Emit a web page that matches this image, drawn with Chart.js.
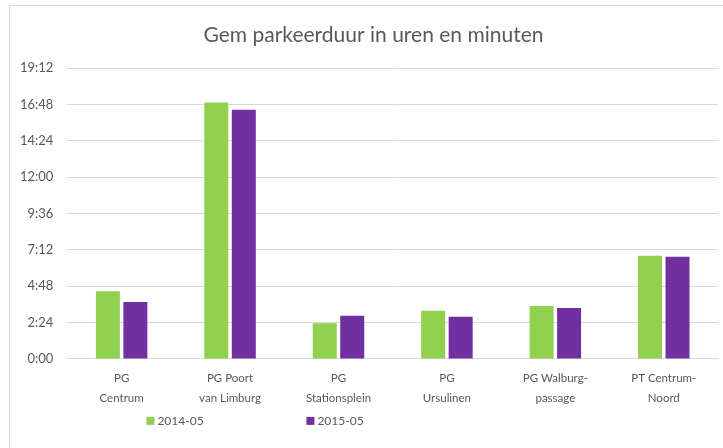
<!DOCTYPE html>
<html>
<head>
<meta charset="utf-8">
<script src="https://cdn.jsdelivr.net/npm/chart.js@4"></script>
<style>
  html, body { margin: 0; padding: 0; background: #fff; overflow: hidden; }
  #frame { position: absolute; left: 9px; top: 5px; width: 800px; height: 600px; border: 1px solid #d9d9d9; }
  #wrap { position: absolute; left: 0; top: 0; width: 723px; height: 448px; }
</style>
</head>
<body>
<div id="frame"></div>
<div id="wrap"><canvas id="Chart"></canvas></div>
<script>
// locations (two-line labels)
const categories = [
    ['PG', 'Centrum'],
    ['PG Poort', 'van Limburg'],
    ['PG', 'Stationsplein'],
    ['PG', 'Ursulinen'],
    ['PG Walburg-', 'passage'],
    ['PT Centrum-', 'Noord']
];

// average parking time in hours
const data2014 = [4.46, 16.92, 2.35, 3.18, 3.49, 6.81];
const data2015 = [3.76, 16.45, 2.85, 2.79, 3.36, 6.74];

const seriesNames = ['2014-05', '2015-05'];
const seriesColors = ['#92d050', '#7030a0'];
const chartTitle = 'Gem parkeerduur in uren en minuten';

const textColor = '#595959';
const fontFamily = 'Lato, "Open Sans", sans-serif';

// hours -> h:mm
function toClock(v) {
    let m = Math.round(v * 60);
    let h = Math.floor(m / 60);
    let mm = m % 60;
    return h + ':' + (mm < 10 ? '0' + mm : mm);
}

// title + legend drawn by hand, placed like the excel original
const excelDecor = {
    id: 'excelDecor',
    afterDraw(chart) {
        let ctx = chart.ctx;
        let area = chart.chartArea;
        ctx.save();
        // title, a bit right of centre
        ctx.font = '21px ' + fontFamily;
        ctx.fillStyle = textColor;
        ctx.textAlign = 'center';
        ctx.textBaseline = 'middle';
        ctx.fillText(chartTitle, chart.width / 2 + 12, area.top - 33);
        // legend under the axis labels
        let y = area.bottom + 62;
        let offsets = [79, 239];
        ctx.font = '12px ' + fontFamily;
        ctx.textAlign = 'left';
        chart.data.datasets.forEach((ds, i) => {
            let x = area.left + offsets[i];
            ctx.fillStyle = ds.backgroundColor;
            ctx.fillRect(x, y - 4, 8, 8);
            ctx.fillStyle = textColor;
            ctx.fillText(ds.label, x + 11, y);
        });
        ctx.restore();
    }
};

let graph = document.getElementById('Chart');

let chartdtl = {
    type: 'bar',
    data: {
        labels: categories,
        datasets: [
            {
                label: seriesNames[0],
                data: data2014,
                backgroundColor: seriesColors[0],
                categoryPercentage: 0.507,
                barPercentage: 0.873,
            },
            {
                label: seriesNames[1],
                data: data2015,
                backgroundColor: seriesColors[1],
                categoryPercentage: 0.507,
                barPercentage: 0.873,
            }
        ]
    },
    options: {
        responsive: true,
        maintainAspectRatio: false,
        animation: false,
        layout: {
            padding: { left: 6, right: 5, top: 68, bottom: 38 }
        },
        plugins: {
            legend: { display: false },
            tooltip: { enabled: false },
            title: { display: false }
        },
        scales: {
            x: {
                grid: { display: false },
                border: { color: '#d9d9d9' },
                ticks: {
                    color: textColor,
                    padding: 2,
                    maxRotation: 0,
                    autoSkip: false,
                    font: { family: fontFamily, size: 11.5, lineHeight: 1.7 }
                }
            },
            y: {
                min: 0,
                max: 19.2,
                border: { display: false },
                grid: { color: '#d9d9d9', drawTicks: false },
                ticks: {
                    stepSize: 2.4,
                    color: textColor,
                    padding: 14,
                    font: { family: fontFamily, size: 13 },
                    callback: (v) => toClock(v)
                }
            }
        }
    },
    plugins: [excelDecor]
};

let presentdata = new Chart(graph, chartdtl);
</script>
</body>
</html>
